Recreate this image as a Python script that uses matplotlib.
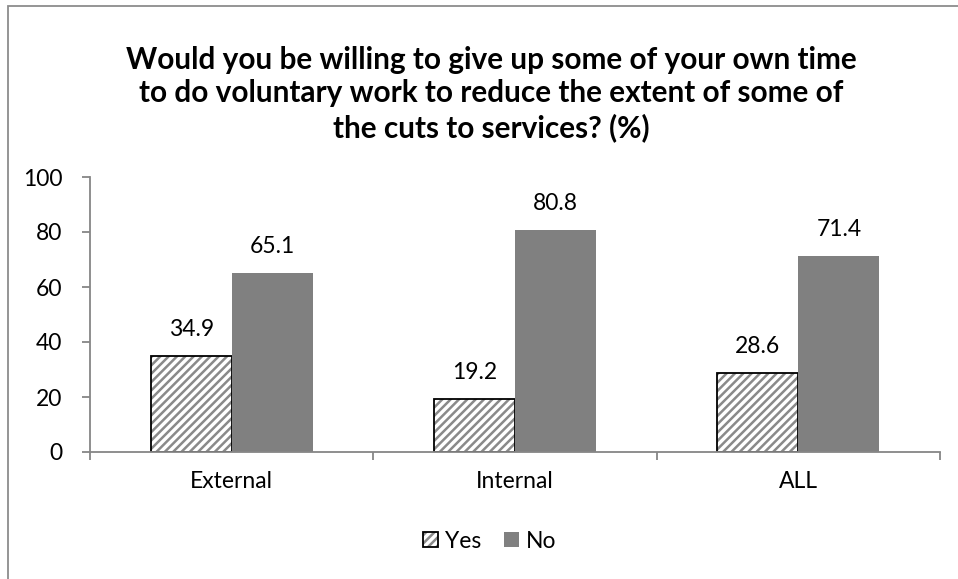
import matplotlib
matplotlib.use("Agg")
import matplotlib.pyplot as plt
from matplotlib.patches import Rectangle, Patch
from matplotlib.legend_handler import HandlerTuple
import numpy as np

categories = ["External", "Internal", "ALL"]
yes_vals = [34.9, 19.2, 28.6]
no_vals = [65.1, 80.8, 71.4]
title = ("Would you be willing to give up some of your own time\n"
         "to do voluntary work to reduce the extent of some of\n"
         "the cuts to services? (%)")

plt.rcParams['font.family'] = ['Lato', 'DejaVu Sans']
plt.rcParams['hatch.linewidth'] = 1.8

fig = plt.figure(figsize=(9.58, 5.79), dpi=100)
# outer chart border (only left/top visible in the reference)
fig.patches.append(Rectangle((8 / 958, -0.1), 1.2, 1 - 6 / 579 + 0.1,
                             transform=fig.transFigure, fill=False,
                             edgecolor='#8c8c8c', linewidth=1.3))

ax = fig.add_axes([90 / 958, 127 / 579, 850 / 958, 275 / 579])
x = np.arange(len(categories))
w = 0.286
axis_col = '#868686'
hatch_col = '#8a8a8a'

ax.bar(x - w / 2, yes_vals, w, color='white', edgecolor=hatch_col,
       hatch='////', linewidth=0)
ax.bar(x - w / 2, yes_vals, w, fill=False, edgecolor='black', linewidth=1.3)
ax.bar(x + w / 2, no_vals, w, color='#808080', linewidth=0)

for xi, v in zip(x - w / 2, yes_vals):
    ax.annotate(f"{v:.1f}", (xi, v), xytext=(0, 19), textcoords='offset points',
                ha='center', va='center', fontsize=16.5)
for xi, v in zip(x + w / 2, no_vals):
    ax.annotate(f"{v:.1f}", (xi, v), xytext=(0, 19), textcoords='offset points',
                ha='center', va='center', fontsize=16.5)

ax.set_xlim(-0.5, 2.5)
ax.set_ylim(0, 100)
ax.set_yticks(range(0, 101, 20))
ax.set_xticks([-0.5, 0.5, 1.5, 2.5])
ax.set_xticklabels([])
ax.set_xticks(x, minor=True)
ax.set_xticklabels(categories, minor=True, fontsize=16.5)
ax.tick_params(axis='x', which='minor', length=0, pad=14)
ax.tick_params(axis='x', which='major', length=6, color=axis_col, width=1.3, direction='out')
ax.tick_params(axis='y', length=6, color=axis_col, width=1.3, labelsize=16.5, pad=14)

for s in ['top', 'right']:
    ax.spines[s].set_visible(False)
for s in ['left', 'bottom']:
    ax.spines[s].set_color(axis_col)
    ax.spines[s].set_linewidth(1.3)

fig.text(491 / 958, 1 - 94 / 579, title, ha='center', va='center', fontsize=21.4,
         fontweight='bold', linespacing=1.22)

yes_handle = (Patch(facecolor='white', edgecolor=hatch_col, hatch='////', linewidth=0),
              Patch(fill=False, edgecolor='black', linewidth=1.3))
no_handle = Patch(facecolor='#808080', linewidth=0)
fig.legend([yes_handle, no_handle], ["Yes", "No"],
           handler_map={tuple: HandlerTuple(ndivide=1, pad=0)},
           loc='center', bbox_to_anchor=(490 / 958, 1 - 541 / 579), ncol=2,
           frameon=False, fontsize=16.5, handlelength=0.65, handleheight=0.65,
           handletextpad=0.3, columnspacing=1.0)

fig.savefig("out.png", dpi=100)
